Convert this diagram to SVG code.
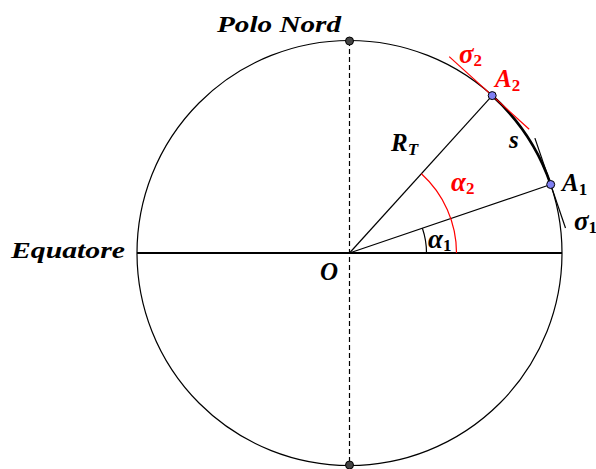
<svg xmlns="http://www.w3.org/2000/svg" width="596" height="469" viewBox="0 0 596 469">
<style>
.thin{fill:none;stroke:#000;stroke-width:1.2}
.red{fill:none;stroke:#f00;stroke-width:1.2}
.lbl{font-family:"Liberation Serif",serif;font-weight:bold;font-style:italic;font-size:25px;fill:#000}
.gr{font-size:27px}
.sub{font-family:"Liberation Serif",serif;font-weight:bold;font-style:normal;font-size:17px}
.it{font-style:italic}
.r{fill:#f00}
.word{font-family:"Liberation Serif",serif;font-weight:bold;font-style:italic;font-size:23px;fill:#000}
.pole{fill:#444;stroke:#000;stroke-width:1}
.pt{fill:#7f7ff2;stroke:#000;stroke-width:1}
</style>
<rect width="596" height="469" fill="#fff"/>
<g id="connectors">
<circle cx="349.5" cy="253" r="212.5" class="thin"/>
<line x1="349.5" y1="41" x2="349.5" y2="465" class="thin" stroke-dasharray="5,3"/>
<line x1="137" y1="253" x2="562" y2="253" stroke="#000" stroke-width="2.2"/>
<line x1="349.5" y1="253" x2="550.7" y2="184.5" class="thin"/>
<line x1="349.5" y1="253" x2="492.2" y2="95.6" class="thin"/>
<path d="M492.2,95.6 A212.5,212.5 0 0 1 550.7,184.5" fill="none" stroke="#000" stroke-width="2.6"/>
<line x1="534.9" y1="138.1" x2="565.5" y2="228" class="thin"/>
<line x1="449.2" y1="56.6" x2="529.2" y2="129.2" class="red"/>
<path d="M456.5,253 A107,107 0 0 0 421.4,173.7" class="red"/>
<path d="M426.5,253 A77,77 0 0 0 422.4,228.2" class="thin"/>
</g>
<g id="polo-nord">
<circle cx="349.5" cy="41" r="4" class="pole"/>
<text x="217" y="31.5" class="word" textLength="124" lengthAdjust="spacingAndGlyphs">Polo Nord</text>
</g>
<g id="polo-sud">
<circle cx="349.5" cy="465" r="4" class="pole"/>
</g>
<g id="equatore">
<text x="11" y="258" class="word" textLength="114" lengthAdjust="spacingAndGlyphs">Equatore</text>
</g>
<g id="origine">
<text x="320" y="280" class="lbl">O</text>
</g>
<g id="raggio">
<text x="391" y="151" class="lbl">R<tspan class="sub it" dy="4">T</tspan></text>
</g>
<g id="arco-s">
<text x="509" y="148" class="lbl">s</text>
</g>
<g id="A1">
<circle cx="550.7" cy="184.5" r="4" class="pt"/>
<text x="562" y="191" class="lbl">A<tspan class="sub" dy="4">1</tspan></text>
</g>
<g id="A2">
<circle cx="492.2" cy="95.6" r="4" class="pt"/>
<text x="495" y="87" class="lbl r">A<tspan class="sub" dy="4">2</tspan></text>
</g>
<g id="sigma1">
<text x="574" y="230" class="lbl gr">σ<tspan class="sub" dy="3">1</tspan></text>
</g>
<g id="sigma2">
<text x="459" y="63" class="lbl gr r">σ<tspan class="sub" dy="3">2</tspan></text>
</g>
<g id="alpha1">
<text x="428" y="248" class="lbl gr">α<tspan class="sub" dy="3">1</tspan></text>
</g>
<g id="alpha2">
<text x="451" y="191" class="lbl gr r">α<tspan class="sub" dy="3">2</tspan></text>
</g>
</svg>
